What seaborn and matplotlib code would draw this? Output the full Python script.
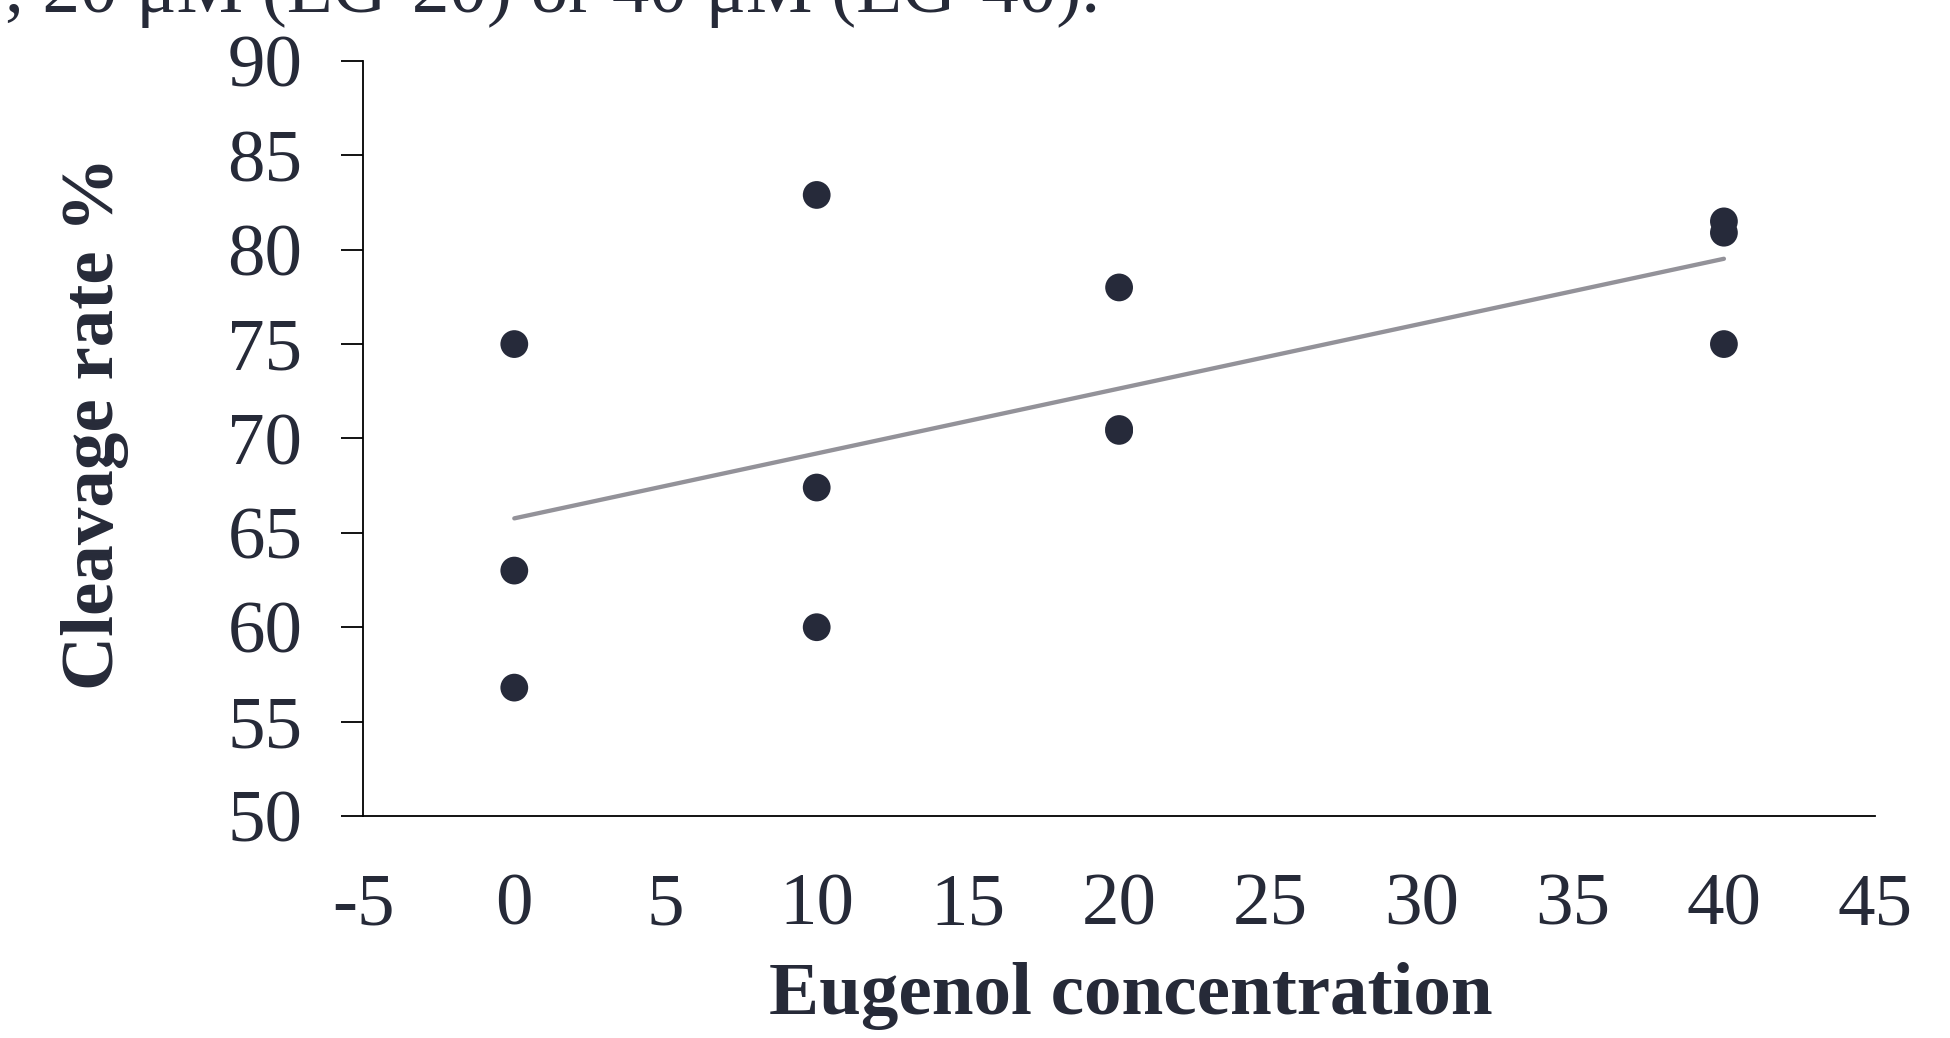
import numpy as np
import pandas as pd
import matplotlib
matplotlib.use("Agg")
import matplotlib.pyplot as plt
import seaborn as sns

# --- veriler ---
concentration = [0, 0, 0, 10, 10, 10, 20, 20, 20, 40, 40, 40]
cleavage_rate = [75.0, 63.0, 56.8, 82.9, 67.4, 60.0, 78.0, 70.4, 70.5, 81.5, 80.9, 75.0]
x_ticks = [-5, 0, 5, 10, 15, 20, 25, 30, 35, 40, 45]
y_ticks = [50, 55, 60, 65, 70, 75, 80, 85, 90]

TEXT_COLOR = "#262a38"
DOT_COLOR = "#262a3a"
LINE_COLOR = "#939299"

sns.set_style("ticks")
plt.rcParams['font.family'] = ['Liberation Serif', 'DejaVu Serif']
plt.rcParams['text.color'] = TEXT_COLOR
plt.rcParams['axes.labelcolor'] = TEXT_COLOR
plt.rcParams['xtick.color'] = TEXT_COLOR
plt.rcParams['ytick.color'] = TEXT_COLOR

df = pd.DataFrame({"conc": concentration, "rate": cleavage_rate})

fig = plt.figure(figsize=(19.5, 10.38), dpi=100)
ax = fig.add_axes([0.1862, 0.2139, 0.7754, 0.7274])

sns.regplot(data=df, x="conc", y="rate", ax=ax, ci=None,
            scatter_kws=dict(s=400, color=DOT_COLOR, edgecolor="none", alpha=1, zorder=3),
            line_kws=dict(color=LINE_COLOR, linewidth=3.1, solid_capstyle="round", zorder=2))

ax.set_xlim(-5, 45)
ax.set_ylim(50, 90)
ax.set_xticks(x_ticks)
ax.set_xticklabels([str(t) for t in x_ticks])
ax.set_yticks(y_ticks)
ax.set_yticklabels([str(t) for t in y_ticks])

ax.tick_params(axis="y", length=15.8, width=1.3, labelsize=54, pad=28, color="black")
ax.tick_params(axis="x", length=0, labelsize=54, pad=41)

for side in ["top", "right"]:
    ax.spines[side].set_visible(False)
for side in ["left", "bottom"]:
    ax.spines[side].set_linewidth(1.3)
    ax.spines[side].set_color("black")

ax.set_xlabel("Eugenol concentration", fontsize=54, fontweight="bold")
ax.set_ylabel("Cleavage rate %", fontsize=54, fontweight="bold")
ax.xaxis.set_label_coords(0.508, -0.193)
ax.yaxis.set_label_coords(-0.155, 0.52)

# sayfanın üstünden kesilmiş açıklama metni
fig.text(1100 / 1950, 1 - 12 / 1038, ", 20 μM (EG-20) or 40 μM (EG-40).",
         ha="right", va="baseline", fontsize=54, color=TEXT_COLOR)

fig.savefig("out.png", dpi=100)
